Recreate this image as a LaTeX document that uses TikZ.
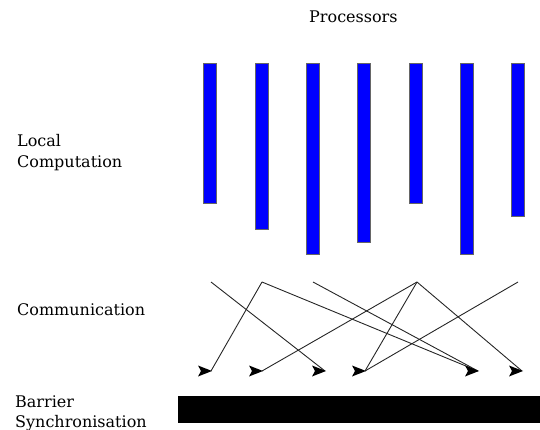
\documentclass[tikz,border=0pt]{standalone}
\usepackage{fontspec}
\setmainfont{DejaVu Serif}
\begin{document}
\begin{tikzpicture}[x=1pt,y=-1pt,
  lbl/.style={anchor=base west,inner sep=0pt,font=\fontsize{16}{20}\selectfont},
  procbar/.style={fill=blue,draw=black!60,line width=0.6pt},
  barrier/.style={fill=black},
  msg/.style={draw=black!85,line width=0.9pt},
  head/.style={fill=black}]
\useasboundingbox (0,0) rectangle (540,430);
% labels
\node[lbl] (proc) at (309,23) {Processors};
\node[lbl] (local1) at (17,147) {Local};
\node[lbl] (local2) at (17,168) {Computation};
\node[lbl] (comm) at (17,315) {Communication};
\node[lbl] (bar1) at (15,407.5) {Barrier};
\node[lbl] (bar2) at (15,427.5) {Synchronisation};
% processor bars
\foreach \x/\b in {210/203,261.5/229,312.5/254,363.5/242,415.5/203,466.5/254,518/216}
  \draw[procbar] (\x-6.5,63) rectangle (\x+6.5,\b);
% barrier
\fill[barrier] (178,395.5) rectangle (540,423);
% sources and targets
\coordinate (s1) at (211,282);
\coordinate (s2) at (262,282);
\coordinate (s3) at (313,282);
\coordinate (s4) at (417,282);
\coordinate (s5) at (518,282);
\coordinate (t1) at (211,371);
\coordinate (t2) at (262,371);
\coordinate (t3) at (325,371);
\coordinate (t4) at (365,371);
\coordinate (t5) at (478,371);
\coordinate (t6) at (522,371);
\draw[msg] (s1) -- (t3);
\draw[msg] (s2) -- (t1);
\draw[msg] (s2) -- (t5);
\draw[msg] (s3) -- (t5);
\draw[msg] (s4) -- (t2);
\draw[msg] (s4) -- (t4);
\draw[msg] (s4) -- (t6);
\draw[msg] (s5) -- (t4);
\foreach \t in {t1,t2,t3,t4,t5,t6}
  \fill[head] (\t) ++(1,0) -- ++(-14,-5.5) -- ++(3,5.5) -- ++(-3,5.5) -- cycle;
\end{tikzpicture}
\end{document}
